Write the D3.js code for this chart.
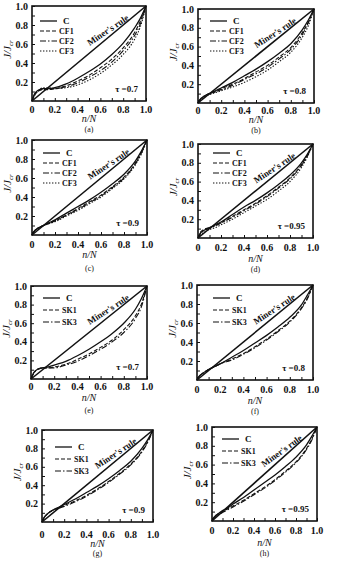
<!DOCTYPE html>
<html>
<head>
<meta charset="utf-8">
<script src="https://cdn.jsdelivr.net/npm/d3@7"></script>
<style>
  html, body { margin: 0; padding: 0; background: #fff; }
  svg { display: block; }
  text { font-family: "Liberation Serif", "DejaVu Serif", serif; fill: #111; }
</style>
</head>
<body>
<svg id="chart" width="337" height="562"></svg>
<script>
// ---- data ----
const nN = [0, 0.02, 0.05, 0.1, 0.15, 0.2, 0.3, 0.4, 0.5, 0.6, 0.7, 0.8, 0.9, 0.95, 1];
const xTicks = [0, 0.2, 0.4, 0.6, 0.8, 1.0];
const yTicks = [0.2, 0.4, 0.6, 0.8, 1.0];
const panelTags = ["(a)", "(b)", "(c)", "(d)", "(e)", "(f)", "(g)", "(h)"];
const tauValues = ["0.7", "0.8", "0.9", "0.95", "0.7", "0.8", "0.9", "0.95"];
const seriesCF = ["C", "CF1", "CF2", "CF3"];
const seriesSK = ["C", "SK1", "SK3"];

const valuesA = [
  [0, 0.07, 0.11, 0.13, 0.13, 0.14, 0.18, 0.24, 0.31, 0.39, 0.49, 0.61, 0.77, 0.87, 1],
  [0, 0.06, 0.10, 0.12, 0.12, 0.13, 0.16, 0.21, 0.27, 0.35, 0.44, 0.56, 0.72, 0.84, 1],
  [0, 0.06, 0.10, 0.13, 0.13, 0.13, 0.15, 0.19, 0.25, 0.32, 0.41, 0.53, 0.69, 0.81, 1],
  [0, 0.05, 0.10, 0.14, 0.14, 0.13, 0.14, 0.17, 0.22, 0.29, 0.38, 0.49, 0.65, 0.78, 1]
];
const valuesB = [
  [0, 0.04, 0.07, 0.10, 0.13, 0.16, 0.22, 0.29, 0.36, 0.44, 0.53, 0.63, 0.78, 0.88, 1],
  [0, 0.04, 0.07, 0.10, 0.12, 0.15, 0.20, 0.26, 0.33, 0.40, 0.49, 0.59, 0.75, 0.86, 1],
  [0, 0.04, 0.07, 0.10, 0.12, 0.14, 0.19, 0.25, 0.31, 0.38, 0.47, 0.57, 0.73, 0.85, 1],
  [0, 0.03, 0.06, 0.09, 0.11, 0.13, 0.17, 0.22, 0.28, 0.35, 0.44, 0.54, 0.70, 0.82, 1]
];
const valuesC = [
  [0, 0.04, 0.07, 0.10, 0.13, 0.16, 0.23, 0.30, 0.37, 0.45, 0.54, 0.64, 0.78, 0.88, 1],
  [0, 0.04, 0.07, 0.10, 0.13, 0.15, 0.21, 0.28, 0.35, 0.42, 0.51, 0.61, 0.76, 0.87, 1],
  [0, 0.04, 0.07, 0.10, 0.12, 0.15, 0.21, 0.27, 0.34, 0.41, 0.50, 0.60, 0.75, 0.86, 1],
  [0, 0.04, 0.07, 0.10, 0.12, 0.14, 0.20, 0.26, 0.33, 0.40, 0.49, 0.59, 0.74, 0.85, 1]
];
const valuesD = [
  [0, 0.05, 0.08, 0.11, 0.14, 0.17, 0.25, 0.33, 0.40, 0.48, 0.57, 0.67, 0.80, 0.89, 1],
  [0, 0.06, 0.09, 0.11, 0.13, 0.16, 0.23, 0.30, 0.37, 0.45, 0.54, 0.64, 0.78, 0.88, 1],
  [0, 0.05, 0.08, 0.10, 0.13, 0.16, 0.22, 0.29, 0.36, 0.44, 0.53, 0.63, 0.77, 0.87, 1],
  [0, 0.03, 0.06, 0.09, 0.11, 0.14, 0.20, 0.27, 0.34, 0.41, 0.50, 0.60, 0.75, 0.86, 1]
];
const valuesE = [
  [0, 0.06, 0.10, 0.12, 0.13, 0.15, 0.19, 0.25, 0.32, 0.40, 0.49, 0.60, 0.75, 0.86, 1],
  [0, 0.06, 0.10, 0.12, 0.12, 0.13, 0.16, 0.21, 0.27, 0.34, 0.42, 0.53, 0.68, 0.80, 1],
  [0, 0.05, 0.10, 0.12, 0.12, 0.12, 0.15, 0.19, 0.25, 0.32, 0.40, 0.50, 0.65, 0.77, 1]
];
const valuesF = [
  [0, 0.04, 0.07, 0.11, 0.14, 0.17, 0.24, 0.31, 0.39, 0.47, 0.56, 0.66, 0.79, 0.89, 1],
  [0, 0.04, 0.07, 0.11, 0.14, 0.17, 0.22, 0.28, 0.35, 0.43, 0.52, 0.62, 0.76, 0.86, 1],
  [0, 0.04, 0.07, 0.11, 0.14, 0.17, 0.21, 0.27, 0.34, 0.42, 0.51, 0.61, 0.75, 0.85, 1]
];
const valuesG = [
  [0, 0.05, 0.09, 0.13, 0.16, 0.19, 0.25, 0.32, 0.39, 0.47, 0.56, 0.66, 0.80, 0.89, 1],
  [0, 0.05, 0.09, 0.13, 0.15, 0.18, 0.23, 0.29, 0.36, 0.44, 0.53, 0.63, 0.77, 0.87, 1],
  [0, 0.05, 0.09, 0.13, 0.15, 0.17, 0.22, 0.28, 0.35, 0.43, 0.52, 0.62, 0.76, 0.86, 1]
];
const valuesH = [
  [0, 0.04, 0.07, 0.11, 0.14, 0.18, 0.25, 0.33, 0.41, 0.49, 0.58, 0.68, 0.81, 0.90, 1],
  [0, 0.04, 0.07, 0.10, 0.13, 0.16, 0.22, 0.29, 0.36, 0.44, 0.53, 0.63, 0.77, 0.87, 1],
  [0, 0.03, 0.06, 0.09, 0.12, 0.15, 0.21, 0.28, 0.35, 0.43, 0.52, 0.62, 0.76, 0.86, 1]
];

const panelValues = [valuesA, valuesB, valuesC, valuesD, valuesE, valuesF, valuesG, valuesH];
const panelSeries = [seriesCF, seriesCF, seriesCF, seriesCF, seriesSK, seriesSK, seriesSK, seriesSK];

// ---- layout: plot boxes [left, top, right, bottom] and label offsets ----
const boxes = [
  [32, 6, 146, 101], [198, 9, 314, 103],
  [32, 140, 147, 235], [198, 144, 313, 238],
  [31, 286, 147, 379], [197, 285, 313, 380],
  [42, 430, 153, 522], [212, 427, 317, 521]
];
// centres of [tick labels, n/N title, panel tag] below the box bottom
const bottomOffsets = [
  [8, 18, 28], [7, 17, 27], [9, 20, 33], [9, 21, 31],
  [7, 19, 31], [9, 21, 31], [12, 22, 31], [9, 22, 32]
];
const legendTop = [15, 12, 13, 9, 12, 13, 17, 12];
const legendLeft = [8, 12, 11, 15, 12, 16, 13, 10];

const dashes = {
  C: null,
  CF1: "4,2",
  CF2: "6,2,1.5,2",
  CF3: "1.4,1.6",
  SK1: "4,2",
  SK3: "6,2,1.5,2"
};

const svg = d3.select("#chart");

panelTags.forEach((tag, i) => {
  const [L, T, R, B] = boxes[i];
  const x = d3.scaleLinear().domain([0, 1]).range([L, R]);
  const y = d3.scaleLinear().domain([0, 1]).range([B, T]);
  const g = svg.append("g");
  const off = bottomOffsets[i];

  // inward ticks
  g.append("g").attr("transform", `translate(0,${B})`)
    .call(d3.axisTop(x).tickValues(d3.range(0, 1.0001, 0.1)).tickSize(3).tickFormat(""))
    .call(a => a.select(".domain").remove())
    .selectAll("line").attr("stroke", "#111").attr("stroke-width", 1);
  g.append("g").attr("transform", `translate(${L},0)`)
    .call(d3.axisRight(y).tickValues(d3.range(0.1, 1.0001, 0.1)).tickSize(3).tickFormat(""))
    .call(a => a.select(".domain").remove())
    .selectAll("line").attr("stroke", "#111").attr("stroke-width", 1);

  // tick labels
  g.selectAll(".xt").data(xTicks).enter().append("text")
    .attr("x", d => x(d)).attr("y", B + off[0] + 3.5)
    .attr("text-anchor", "middle")
    .attr("font-size", 10).attr("font-weight", "bold")
    .text(d => d === 0 ? "0" : d3.format(".1f")(d));
  g.selectAll(".yt").data(yTicks).enter().append("text")
    .attr("x", L - 4).attr("y", d => y(d) + 3.5)
    .attr("text-anchor", "end")
    .attr("font-size", 10).attr("font-weight", "bold")
    .text(d => d3.format(".1f")(d));

  // axis titles
  g.append("text")
    .attr("x", (L + R) / 2).attr("y", B + off[1] + 3)
    .attr("text-anchor", "middle").attr("font-size", 10).attr("font-style", "italic")
    .text("n/N");
  const yl = g.append("text")
    .attr("transform", `translate(${L - 21},${(T + B) / 2 - 4}) rotate(-90)`)
    .attr("text-anchor", "middle").attr("font-size", 11).attr("font-style", "italic");
  yl.append("tspan").text("J/J");
  yl.append("tspan").attr("font-size", 7).attr("dy", 2).text("cr");

  g.append("text")
    .attr("x", (L + R) / 2).attr("y", B + off[2] + 3)
    .attr("text-anchor", "middle").attr("font-size", 8)
    .text(tag);

  // Miner's rule line
  g.append("line")
    .attr("x1", x(0)).attr("y1", y(0)).attr("x2", x(1)).attr("y2", y(1))
    .attr("stroke", "#111").attr("stroke-width", 1.6);
  const ang = -Math.atan2(B - T, R - L) * 180 / Math.PI + 6;
  g.append("text")
    .attr("transform", `translate(${x(0.68)},${y(0.72)}) rotate(${ang})`)
    .attr("text-anchor", "middle").attr("font-size", 9).attr("font-weight", "bold")
    .text("Miner's rule");

  // damage curves
  const line = d3.line().x(d => x(d[0])).y(d => y(d[1])).curve(d3.curveMonotoneX);
  const names = panelSeries[i];
  panelValues[i].forEach((vals, k) => {
    const name = names[k];
    g.append("path")
      .datum(nN.map((v, j) => [v, vals[j]]))
      .attr("d", line)
      .attr("fill", "none").attr("stroke", "#111")
      .attr("stroke-width", name === "C" ? 1.3 : 1.1)
      .attr("stroke-dasharray", dashes[name]);
  });

  // legend
  names.forEach((name, k) => {
    const ly = T + legendTop[i] + k * (names.length === 4 ? 10 : 12);
    const lx = L + legendLeft[i];
    g.append("line")
      .attr("x1", lx).attr("x2", lx + 17).attr("y1", ly).attr("y2", ly)
      .attr("stroke", "#111").attr("stroke-width", name === "C" ? 1.3 : 1.1)
      .attr("stroke-dasharray", dashes[name]);
    g.append("text")
      .attr("x", lx + (name === "C" ? 23 : 19)).attr("y", ly + 3)
      .attr("font-size", name === "C" ? 9 : 8).attr("font-weight", "bold")
      .text(name);
  });

  // load ratio note
  g.append("text")
    .attr("x", R - 8).attr("y", B - 9)
    .attr("text-anchor", "end").attr("font-size", 9).attr("font-weight", "bold")
    .text("\u03c4 =" + tauValues[i]);

  // frame
  g.append("rect")
    .attr("x", L).attr("y", T).attr("width", R - L).attr("height", B - T)
    .attr("fill", "none").attr("stroke", "#111").attr("stroke-width", 1.6);
});
</script>
</body>
</html>
